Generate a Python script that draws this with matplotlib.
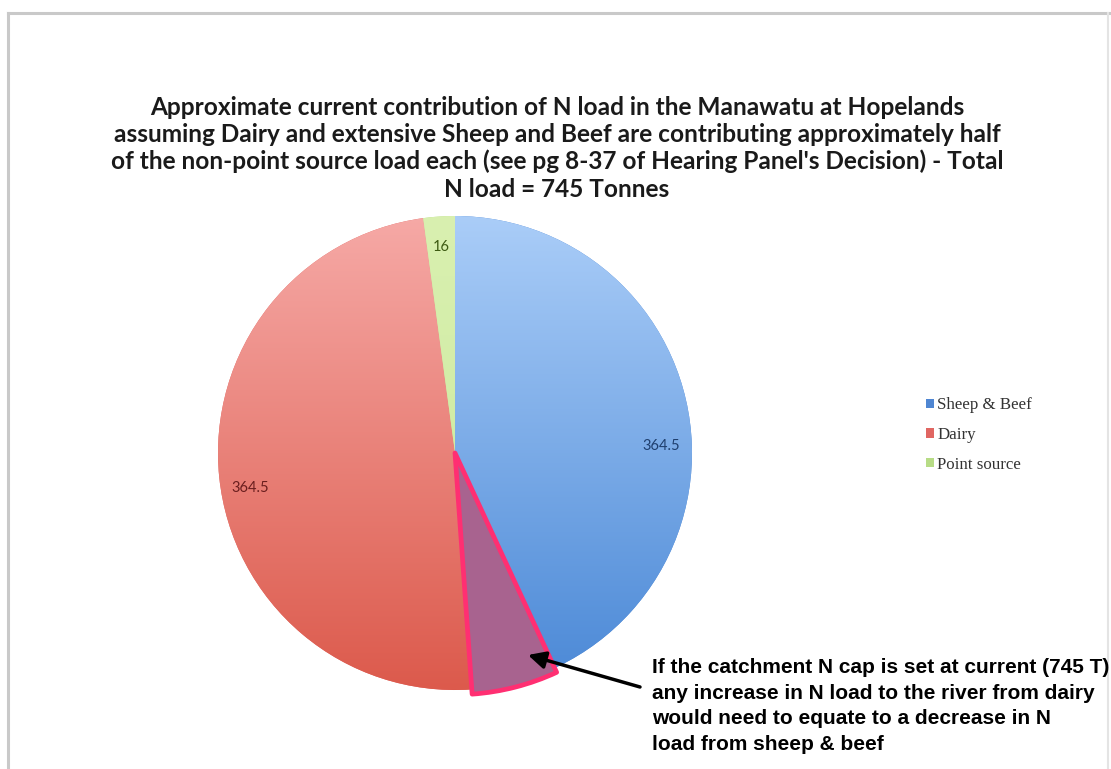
import numpy as np
import matplotlib
matplotlib.use("Agg")
import matplotlib.pyplot as plt
from matplotlib.colors import LinearSegmentedColormap
from matplotlib.patches import Wedge, FancyArrowPatch
from matplotlib.lines import Line2D

# ---- data -------------------------------------------------------------
categories = ["Sheep & Beef", "Dairy", "Point source"]
loads = [364.5, 364.5, 16]
value_labels = ["364.5", "364.5", "16"]

title_lines = [
    "Approximate current contribution of N load in the Manawatu at Hopelands",
    "assuming Dairy and extensive Sheep and Beef are contributing approximately half",
    "of the non-point source load each (see pg 8-37 of Hearing Panel's Decision) - Total",
    "N load = 745 Tonnes",
]
note_lines = [
    "If the catchment N cap is set at current (745 T)",
    "any increase in N load to the river from dairy",
    "would need to equate to a decrease in N",
    "load from sheep & beef",
]

# ---- styling ----------------------------------------------------------
W, H = 1111, 769
legend_colors = ["#4f86d2", "#e06662", "#b7dc86"]
grad_top = ["#aacdf8", "#f6a9a6", "#d9f0b0"]
grad_bot = ["#4a88d6", "#dc5a4c", "#c9e89a"]
label_colors = ["#1f3f6e", "#6a1e1e", "#3d5a12"]
label_nudge = [0.0, -0.06, 0.0]


def px(x, y):
    """pixel position (from top-left) -> figure fraction"""
    return x / W, 1 - y / H


fig = plt.figure(figsize=(W / 100, H / 100), dpi=100)
fig.patch.set_facecolor("white")

# pie axes: centre (455, 453) px, radius 237 px, limits +-1.1
cx, cy, r = 455, 453, 237
half = r * 1.1
ax = fig.add_axes([(cx - half) / W, (H - cy - half) / H, 2 * half / W, 2 * half / H])

wedges, _, autotexts = ax.pie(
    loads,
    colors=legend_colors,
    startangle=90,
    counterclock=False,
    radius=1.0,
    autopct=lambda p: "",
    pctdistance=0.87,
    wedgeprops=dict(linewidth=0),
    frame=False,
)
ax.set_xlim(-1.1, 1.1)
ax.set_ylim(-1.1, 1.1)
ax.set_aspect("equal")
ax.axis("off")

# vertical gradient fill clipped to each slice
grad = np.linspace(0, 1, 256).reshape(-1, 1)
for w, top, bot in zip(wedges, grad_top, grad_bot):
    cmap = LinearSegmentedColormap.from_list("g", [top, bot])
    im = ax.imshow(grad, cmap=cmap, extent=(-1, 1, -1, 1), origin="upper",
                   aspect="auto", zorder=1.5, interpolation="bilinear")
    im.set_clip_path(w)

for t, txt, c, dy in zip(autotexts, value_labels, label_colors, label_nudge):
    t.set_text(txt)
    t.set_color(c)
    t.set_fontsize(10.5)
    t.set_family("Lato")
    t.set_zorder(3)
    x0, y0 = t.get_position()
    t.set_position((x0, y0 + dy))

# highlighted part of the sheep & beef slice, next to the dairy boundary
start = wedges[0].theta1
hl = Wedge((0, 0), 1.02, start + 0.2, start + 21, facecolor="#a8638f",
           edgecolor="#ff2f72", linewidth=3.4, zorder=2.5, joinstyle="round")
ax.add_patch(hl)

# title
title_y = [115, 142, 169, 197]
for line, y in zip(title_lines, title_y):
    fig.text(*px(557, y), line, ha="center", va="baseline", fontsize=17.6,
             fontweight="bold", family="Lato", color="#1a1a1a")

# legend
ax.legend(wedges, categories, loc="upper left",
          bbox_to_anchor=px(918, 389), bbox_transform=fig.transFigure,
          frameon=False, prop=dict(family="Liberation Serif", size=12.2),
          handlelength=0.45, handleheight=0.45, handletextpad=0.2,
          labelspacing=0.8, borderpad=0, labelcolor="#333333")

# annotation note with arrow
note_y = [673, 699, 724, 750]
for line, y in zip(note_lines, note_y):
    fig.text(*px(652, y), line, ha="left", va="baseline", fontsize=15,
             fontweight="bold", family="Liberation Sans", color="black")
fig.add_artist(FancyArrowPatch(
    px(640, 687), px(528, 655), transform=fig.transFigure,
    arrowstyle="-|>", mutation_scale=26, linewidth=2.5, color="black",
    shrinkA=0, shrinkB=0))

# outer frame
frame_col = "#c9c9c9"
fig.add_artist(Line2D([8 / W, 8 / W], [0, 1 - 13 / H], color=frame_col,
                      lw=2.2, transform=fig.transFigure))
fig.add_artist(Line2D([8 / W, 1], [1 - 13 / H, 1 - 13 / H], color=frame_col,
                      lw=2.2, transform=fig.transFigure))
fig.add_artist(Line2D([1108 / W, 1108 / W], [0, 1 - 13 / H], color="#e4e4e4",
                      lw=1.5, transform=fig.transFigure))

fig.savefig("out.png", dpi=100)
